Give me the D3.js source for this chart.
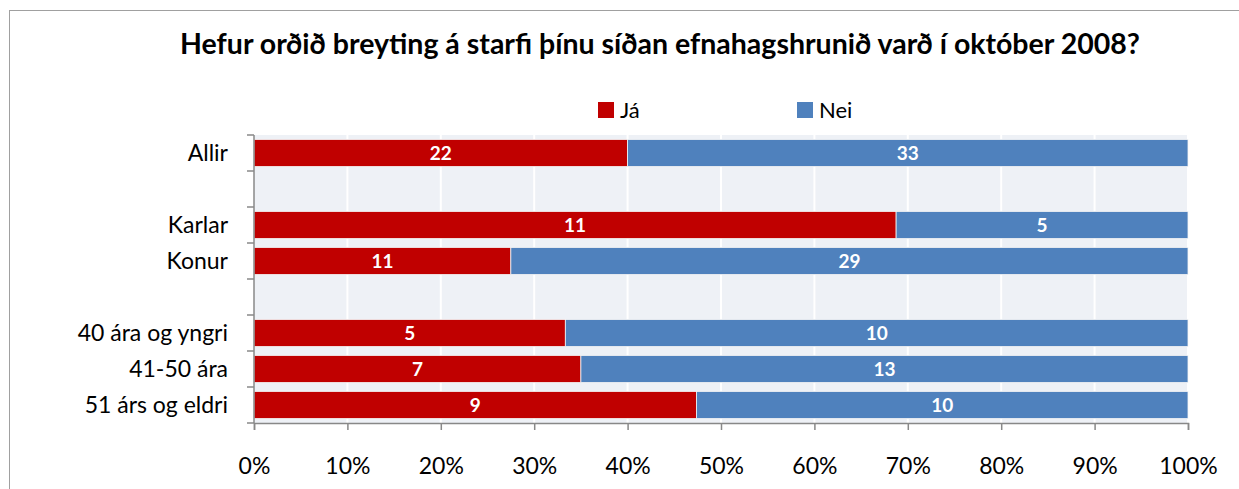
<!DOCTYPE html>
<html>
<head>
<meta charset="utf-8">
<script src="https://cdn.jsdelivr.net/npm/d3@7"></script>
<style>
  body { margin: 0; background: #fff; }
  svg { display: block; font-family: Lato, "Open Sans", sans-serif; }
</style>
</head>
<body>
<svg id="chart" width="1239" height="489"></svg>
<script>
/* DATA */
var categories = ["Allir", "", "Karlar", "Konur", " ", "40 ára og yngri", "41-50 ára", "51 árs og eldri"];
var ja  = [22, null, 11, 11, null, 5, 7, 9];
var nei = [33, null, 5, 29, null, 10, 13, 10];
var seriesNames = ["Já", "Nei"];
var seriesColors = ["#C00000", "#4F81BD"];
var xTicks = [0, 0.1, 0.2, 0.3, 0.4, 0.5, 0.6, 0.7, 0.8, 0.9, 1];

var svg = d3.select("#chart");

/* OUTER BORDER */
svg.append("rect")
  .attr("x", 9.5).attr("y", 10.5)
  .attr("width", 1300).attr("height", 600)
  .attr("fill", "none").attr("stroke", "#a0a0a0").attr("stroke-width", 1);

/* TITLE */
svg.append("text")
  .attr("x", 660).attr("y", 54)
  .attr("text-anchor", "middle")
  .attr("font-size", "28.5px")
  .attr("font-weight", "bold")
  .attr("fill", "#000")
  .text("Hefur orðið breyting á starfi þínu síðan efnahagshrunið varð í október 2008?");

/* SCALES */
var plotLeft = 254, plotRight = 1188, plotTop = 135, plotBottom = 423;
var x = d3.scaleLinear().domain([0, 1]).range([plotLeft, plotRight]);
var y = d3.scaleBand().domain(categories).range([plotTop, plotBottom]).paddingInner(0.25).paddingOuter(0.125);

/* PLOT BACKGROUND + GRID */
svg.append("rect")
  .attr("x", plotLeft).attr("y", plotTop)
  .attr("width", plotRight - plotLeft).attr("height", plotBottom - plotTop)
  .attr("fill", "#EEF1F6");
svg.append("g").selectAll("line")
  .data(xTicks.slice(1))
  .enter().append("line")
  .attr("x1", function(d) { return x(d); }).attr("x2", function(d) { return x(d); })
  .attr("y1", plotTop).attr("y2", plotBottom)
  .attr("stroke", "#fff").attr("stroke-width", 2);

/* STACKED ROWS */
var rows = categories.map(function(c, i) {
  return { cat: c, ja: ja[i], nei: nei[i] };
}).filter(function(d) { return d.ja !== null; });

var stack = d3.stack().keys(["ja", "nei"]).offset(d3.stackOffsetExpand)(rows);

var layer = svg.append("g").selectAll("g")
  .data(stack)
  .enter().append("g")
  .attr("fill", function(d, i) { return seriesColors[i]; });

layer.selectAll("rect")
  .data(function(d) { return d; })
  .enter().append("rect")
  .attr("x", function(d) { return x(d[0]); })
  .attr("width", function(d) { return x(d[1]) - x(d[0]); })
  .attr("y", function(d) { return y(d.data.cat); })
  .attr("height", y.bandwidth())
  .attr("stroke", "#f4f4f4").attr("stroke-width", 0.8);

layer.selectAll("text")
  .data(function(d) { return d.map(function(p) { p.key = d.key; return p; }); })
  .enter().append("text")
  .attr("x", function(d) { return (x(d[0]) + x(d[1])) / 2; })
  .attr("y", function(d) { return y(d.data.cat) + y.bandwidth() / 2; })
  .attr("dy", "0.36em")
  .attr("text-anchor", "middle")
  .attr("fill", "#fff")
  .attr("font-weight", "bold")
  .attr("font-size", "19px")
  .text(function(d) { return d.data[d.key]; });

/* AXES */
var xAxis = svg.append("g")
  .attr("transform", "translate(0," + plotBottom + ")")
  .call(d3.axisBottom(x).tickValues(xTicks).tickFormat(d3.format(".0%")).tickSizeOuter(0).tickSize(7).tickPadding(28));
xAxis.select(".domain").attr("stroke", "#888").attr("stroke-width", 1.5);
xAxis.selectAll(".tick line").attr("stroke", "#888").attr("stroke-width", 1.5);
xAxis.selectAll("text").attr("font-size", "23px").attr("fill", "#000").attr("font-family", "Lato, sans-serif");

var yAxisLine = svg.append("g");
yAxisLine.append("line")
  .attr("x1", plotLeft).attr("x2", plotLeft).attr("y1", plotTop).attr("y2", plotBottom)
  .attr("stroke", "#888").attr("stroke-width", 1.5);
var bounds = categories.map(function(c) { return y(c) - y.step() * y.paddingInner() / 2; }).concat([plotBottom]);
yAxisLine.selectAll(".yt")
  .data(bounds)
  .enter().append("line")
  .attr("x1", plotLeft - 7).attr("x2", plotLeft)
  .attr("y1", function(d) { return d; }).attr("y2", function(d) { return d; })
  .attr("stroke", "#888").attr("stroke-width", 1.5);

svg.append("g").selectAll("text")
  .data(categories)
  .enter().append("text")
  .attr("x", 228)
  .attr("y", function(c) { return y(c) + y.bandwidth() / 2; })
  .attr("dy", "0.36em")
  .attr("text-anchor", "end")
  .attr("font-size", "23px")
  .attr("fill", "#000")
  .text(function(c) { return c.trim(); });

/* LEGEND */
var legendX = [598, 797];
var legend = svg.append("g").selectAll("g")
  .data(seriesNames)
  .enter().append("g")
  .attr("transform", function(d, i) { return "translate(" + legendX[i] + ",102)"; });
legend.append("rect")
  .attr("width", 16).attr("height", 16)
  .attr("fill", function(d, i) { return seriesColors[i]; });
legend.append("text")
  .attr("x", 22).attr("y", 8).attr("dy", "0.36em")
  .attr("font-size", "22px").attr("fill", "#000")
  .text(function(d) { return d; });
</script>
</body>
</html>
